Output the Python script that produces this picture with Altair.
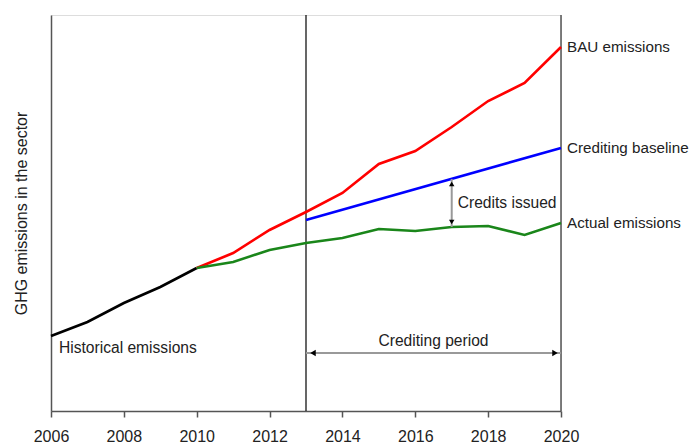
import altair as alt
import pandas as pd

# ---- data (arbitrary emission units) ----
hist_years = [2006, 2007, 2008, 2009, 2010]
hist_values = [75, 89, 108, 124, 143]

proj_years = [2010, 2011, 2012, 2013, 2014, 2015, 2016, 2017, 2018, 2019, 2020]
bau_values = [143, 158, 181, 199, 218, 247, 260, 284, 310, 328, 364]
actual_values = [143, 149, 161, 168, 173, 182, 180, 184, 185, 176, 188]

baseline_years = [2013, 2020]
baseline_values = [191, 263]

x_ticks = [2006, 2008, 2010, 2012, 2014, 2016, 2018, 2020]

period_start = 2013
period_end = 2020
period_level = 58
credit_year = 2017
credit_top = 232
credit_bottom = 184

end_labels = ["BAU emissions", "Crediting baseline", "Actual emissions"]
end_values = [364, 263, 188]

FONT = "Liberation Sans, Arial, Helvetica, sans-serif"

xs = alt.Scale(domain=[2006, 2020], nice=False, zero=False)
ys = alt.Scale(domain=[0, 396], nice=False, zero=True)
xaxis = alt.Axis(values=x_ticks, format="d", title=None, grid=False,
                 labelFontSize=16, labelFont=FONT, labelColor="#222222",
                 labelPadding=11, tickSize=6, tickWidth=1.5, tickColor="#555555",
                 domainColor="#555555", domainWidth=1.5, labelFlush=False)
yaxis = alt.Axis(title="GHG emissions in the sector", labels=False, ticks=False,
                 grid=False, domainColor="#555555", domainWidth=1.5,
                 titleFont=FONT, titleFontSize=16, titleFontWeight="normal",
                 titleColor="#222222", titlePadding=22)


def X(f="year"):
    return alt.X(f, type="quantitative", scale=xs, axis=xaxis)


def Y(f="value"):
    return alt.Y(f, type="quantitative", scale=ys, axis=yaxis)


hist_df = pd.DataFrame({"year": hist_years, "value": hist_values})
bau_df = pd.DataFrame({"year": proj_years, "value": bau_values})
act_df = pd.DataFrame({"year": proj_years, "value": actual_values})
base_df = pd.DataFrame({"year": baseline_years, "value": baseline_values})

hist = alt.Chart(hist_df).mark_line(color="#000000", strokeWidth=2.6).encode(x=X(), y=Y())
bau = alt.Chart(bau_df).mark_line(color="#ff0000", strokeWidth=2.6).encode(x=X(), y=Y())
act = alt.Chart(act_df).mark_line(color="#1a861a", strokeWidth=2.6).encode(x=X(), y=Y())
base = alt.Chart(base_df).mark_line(color="#0000ff", strokeWidth=2.6).encode(x=X(), y=Y())

# vertical lines: start of crediting period and right frame
vlines_df = pd.DataFrame({"year": [period_start], "value": [0], "top": [396]})
vline = alt.Chart(vlines_df).mark_rule(color="#000000", strokeWidth=1.2).encode(
    x=X(), y=Y(), y2=alt.Y2("top"))
rframe_df = pd.DataFrame({"year": [period_end], "value": [0], "top": [396]})
rframe = alt.Chart(rframe_df).mark_rule(color="#555555", strokeWidth=1.5).encode(
    x=X(), y=Y(), y2=alt.Y2("top"))

# crediting period arrow
period_df = pd.DataFrame({"year": [period_start], "end": [period_end], "value": [period_level]})
period_line = alt.Chart(period_df).mark_rule(color="#999999", strokeWidth=2).encode(
    x=X(), x2=alt.X2("end"), y=Y())
pl_df = pd.DataFrame({"year": [period_start], "value": [period_level]})
pr_df = pd.DataFrame({"year": [period_end], "value": [period_level]})
head_l = alt.Chart(pl_df).mark_point(shape="triangle-left", filled=True, color="#000000",
                                     size=40, opacity=1, xOffset=7).encode(x=X(), y=Y())
head_r = alt.Chart(pr_df).mark_point(shape="triangle-right", filled=True, color="#000000",
                                     size=40, opacity=1, xOffset=-6).encode(x=X(), y=Y())

# credits issued arrow
credit_df = pd.DataFrame({"year": [credit_year], "value": [credit_bottom], "top": [credit_top]})
credit_line = alt.Chart(credit_df).mark_rule(color="#999999", strokeWidth=2).encode(
    x=X(), y=Y(), y2=alt.Y2("top"))
ct_df = pd.DataFrame({"year": [credit_year], "value": [credit_top]})
cb_df = pd.DataFrame({"year": [credit_year], "value": [credit_bottom]})
head_t = alt.Chart(ct_df).mark_point(shape="triangle-up", filled=True, color="#000000",
                                     size=30, opacity=1, yOffset=5).encode(x=X(), y=Y())
head_b = alt.Chart(cb_df).mark_point(shape="triangle-down", filled=True, color="#000000",
                                     size=30, opacity=1, yOffset=-5).encode(x=X(), y=Y())

# labels
end_df = pd.DataFrame({"year": [period_end] * 3, "value": end_values, "label": end_labels})
end_text = alt.Chart(end_df).mark_text(align="left", baseline="middle", dx=6, font=FONT,
                                       fontSize=15.2, color="#222222").encode(
    x=X(), y=Y(), text="label:N")
credit_text_df = pd.DataFrame({"year": [credit_year], "value": [(credit_top + credit_bottom) / 2],
                               "label": ["Credits issued"]})
credit_text = alt.Chart(credit_text_df).mark_text(align="left", baseline="middle", dx=6,
                                                  font=FONT, fontSize=15.6, color="#222222").encode(
    x=X(), y=Y(), text="label:N")
hist_text_df = pd.DataFrame({"year": [2006], "value": [63], "label": ["Historical emissions"]})
hist_text = alt.Chart(hist_text_df).mark_text(align="left", baseline="middle", dx=8,
                                              font=FONT, fontSize=15.6, color="#222222").encode(
    x=X(), y=Y(), text="label:N")
period_text_df = pd.DataFrame({"year": [(period_start + period_end) / 2], "value": [70],
                               "label": ["Crediting period"]})
period_text = alt.Chart(period_text_df).mark_text(align="center", baseline="middle",
                                                  font=FONT, fontSize=15.6, color="#222222").encode(
    x=X(), y=Y(), text="label:N")

chart = alt.layer(
    vline, rframe, hist, bau, act, base,
    period_line, head_l, head_r, credit_line, head_t, head_b,
    end_text, credit_text, hist_text, period_text,
).properties(
    width=510, height=396,
    autosize=alt.AutoSizeParams(type="none"),
    padding={"left": 43, "top": 7, "right": 128, "bottom": 33},
).configure_view(stroke=None).configure(background="white")

chart.save("out.html", embed_options={"renderer": "svg", "actions": False})
